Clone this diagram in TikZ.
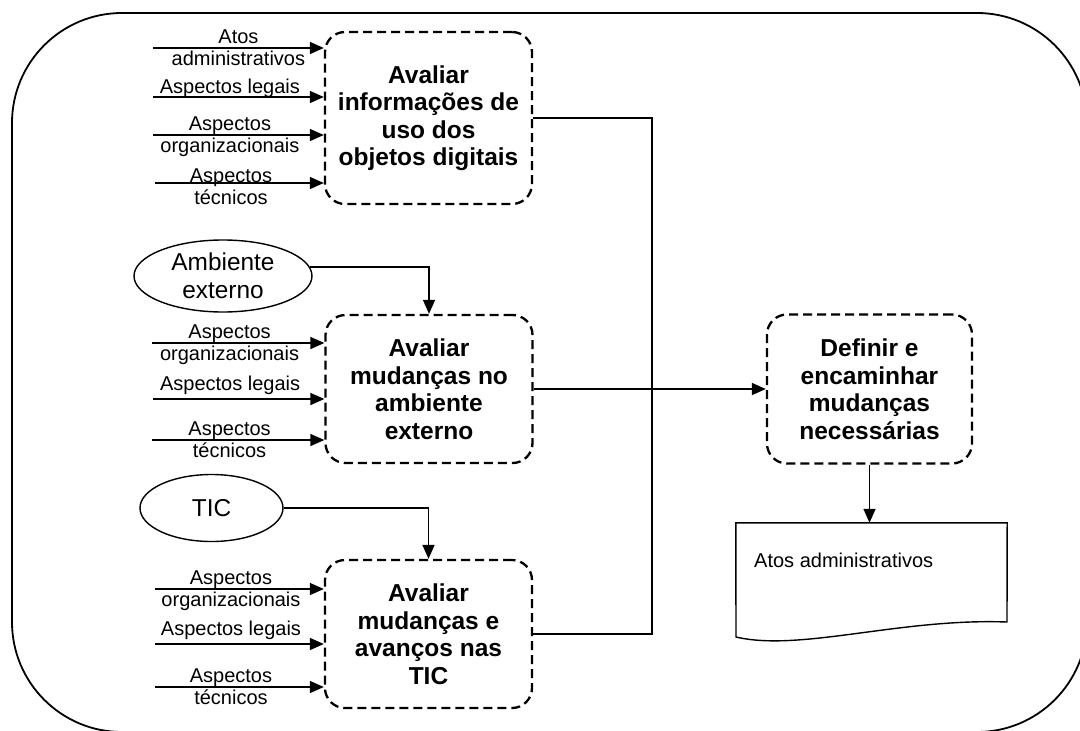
\documentclass[tikz,border=0pt]{standalone}
\usepackage{fontspec}
\setmainfont{Liberation Sans}
\usetikzlibrary{arrows.meta,shapes.geometric}
\begin{document}
\begin{tikzpicture}[x=1pt,y=-1pt,
 proc/.style={draw, dash pattern=on 9pt off 5pt, line width=2.3pt, rounded corners=20pt, minimum width=207pt, minimum height=148pt, inner sep=0pt, align=center, font=\fontsize{24.5pt}{27.5pt}\selectfont\bfseries},
 ext/.style={draw, ellipse, line width=1.4pt, inner sep=0pt, align=center, font=\fontsize{24.4pt}{28pt}\selectfont},
 arr/.style={line width=1.5pt, -{Triangle[length=14pt,width=12pt]}},
 conn/.style={line width=1.4pt},
 lab/.style={font=\fontsize{20pt}{22pt}\selectfont, anchor=base, inner sep=0pt},
 up/.style={lab, yshift=5pt},
 dn/.style={lab, yshift=-17pt},
]
\useasboundingbox (0,0) rectangle (1080,731);
% outer frame
\draw[line width=1.8pt, rounded corners=110pt] (12,13) rectangle (1087,732);

% process boxes
\node[proc, minimum height=172pt] (b1) at (428.5,118) {Avaliar\\informações de\\uso dos\\objetos digitais};
\node[proc] (b2) at (429,389) {Avaliar\\mudanças no\\ambiente\\externo};
\node[proc] (b3) at (428.5,634) {Avaliar\\mudanças e\\avanços nas\\TIC};
\node[proc, minimum width=205pt, minimum height=149pt] (b4) at (869.5,389) {Definir e\\encaminhar\\mudanças\\necessárias};

% external entities
\node[ext, minimum width=178pt, minimum height=72pt] (amb) at (223,276) {Ambiente\\externo};
\node[ext, minimum width=143pt, minimum height=67pt] (tic) at (211.5,508) {TIC};

% document
\node[minimum width=271pt, minimum height=114pt, inner sep=0pt] (doc) at (871.5,580) {};
\draw[line width=1.4pt] (doc.north west) -- (doc.north east) -- (1007,622)
  .. controls (900,618) and (800,652) .. (736,637) -- cycle;
\node[lab, anchor=base west] (doctext) at (754,567) {Atos administrativos};

% inputs box 1
\coordinate (a1) at (153,48);
\coordinate (a2) at (153,97);
\coordinate (a3) at (153,135);
\coordinate (a4) at (155,183);
\draw[arr] (a1) -- (a1 -| b1.west) node[pos=.5, up] (l1a) {Atos} node[pos=.5, dn] (l1b) {administrativos};
\draw[arr] (a2) -- (a2 -| b1.west) node[pos=.45, up, yshift=-1pt] (l2a) {Aspectos legais};
\draw[arr] (a3) -- (a3 -| b1.west) node[pos=.45, up] (l3a) {Aspectos} node[pos=.45, dn] (l3b) {organizacionais};
\draw[arr] (a4) -- (a4 -| b1.west) node[pos=.45, up, yshift=-4pt] (l4a) {Aspectos} node[pos=.45, dn, yshift=-4pt] (l4b) {técnicos};

% inputs box 2
\coordinate (c1) at (152,343);
\coordinate (c2) at (153,399);
\coordinate (c3) at (152,440);
\draw[arr] (c1) -- (c1 -| b2.west) node[pos=.45, up] (m1a) {Aspectos} node[pos=.45, dn] (m1b) {organizacionais};
\draw[arr] (c2) -- (c2 -| b2.west) node[pos=.45, up, yshift=4pt] (m2a) {Aspectos legais};
\draw[arr] (c3) -- (c3 -| b2.west) node[pos=.45, up] (m3a) {Aspectos} node[pos=.45, dn] (m3b) {técnicos};

% inputs box 3
\coordinate (d1) at (155,589);
\coordinate (d2) at (155,644);
\coordinate (d3) at (155,687);
\draw[arr] (d1) -- (d1 -| b3.west) node[pos=.45, up] (n1a) {Aspectos} node[pos=.45, dn] (n1b) {organizacionais};
\draw[arr] (d2) -- (d2 -| b3.west) node[pos=.45, up, yshift=4pt] (n2a) {Aspectos legais};
\draw[arr] (d3) -- (d3 -| b3.west) node[pos=.45, up] (n3a) {Aspectos} node[pos=.45, dn] (n3b) {técnicos};

% external entity flows
\draw[arr] (amb.6) -| (b2.north);
\draw[arr] (tic.east) -| (b3.north);

% outputs
\coordinate (j) at (652,389);
\draw[conn] (b1.east) -| (j);
\draw[conn] (b3.east) -| (j);
\draw[arr] (b2.east) -- (b4.west);
\draw[arr] (b4.south) -- (b4.south |- doc.north);
\end{tikzpicture}
\end{document}
